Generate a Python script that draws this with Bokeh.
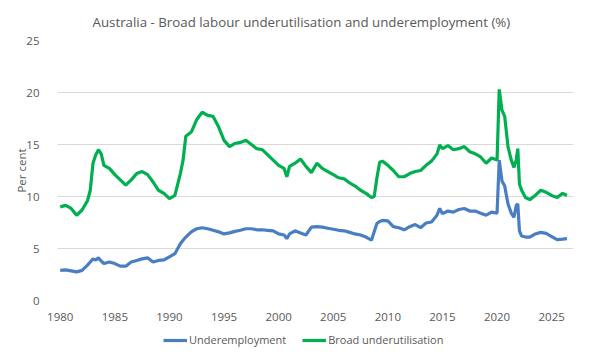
from bokeh.plotting import figure
from bokeh.layouts import column
from bokeh.models import Range1d, Legend, LegendItem, FixedTicker
from bokeh.embed import file_html
from bokeh.resources import INLINE

years = [1980.0, 1980.5, 1981.0, 1981.5, 1982.0, 1982.5, 1982.75, 1983.0, 1983.25, 1983.5,
         1983.75, 1984.0, 1984.5, 1985.0, 1985.5, 1986.0, 1986.5, 1987.0, 1987.5, 1988.0,
         1988.5, 1989.0, 1989.5, 1990.0, 1990.5, 1991.0, 1991.25, 1991.5, 1992.0, 1992.5,
         1993.0, 1993.5, 1994.0, 1994.5, 1995.0, 1995.5, 1996.0, 1996.5, 1997.0, 1997.5,
         1998.0, 1998.5, 1999.0, 1999.5, 2000.0, 2000.5, 2000.75, 2001.0, 2001.5, 2002.0,
         2002.5, 2003.0, 2003.5, 2004.0, 2004.5, 2005.0, 2005.5, 2006.0, 2006.5, 2007.0,
         2007.5, 2008.0, 2008.5, 2008.75, 2009.0, 2009.25, 2009.5, 2010.0, 2010.5, 2011.0,
         2011.5, 2012.0, 2012.5, 2013.0, 2013.5, 2014.0, 2014.5, 2014.75, 2015.0, 2015.5,
         2016.0, 2016.5, 2017.0, 2017.5, 2018.0, 2018.5, 2019.0, 2019.5, 2020.0, 2020.2,
         2020.45, 2020.7, 2021.0, 2021.3, 2021.55, 2021.75, 2021.9, 2022.05, 2022.25, 2022.6,
         2023.0, 2023.5, 2024.0, 2024.5, 2025.0, 2025.5, 2026.0, 2026.4]

underutilisation = [9.0, 9.15, 8.85, 8.2, 8.7, 9.6, 10.6, 13.2, 14.0, 14.5,
                    14.1, 13.0, 12.7, 12.1, 11.6, 11.1, 11.6, 12.2, 12.4, 12.1,
                    11.4, 10.6, 10.3, 9.8, 10.1, 12.2, 13.5, 15.8, 16.2, 17.4,
                    18.1, 17.8, 17.7, 16.7, 15.4, 14.8, 15.1, 15.2, 15.4, 15.0,
                    14.6, 14.5, 14.0, 13.5, 13.0, 12.7, 11.9, 12.9, 13.2, 13.6,
                    12.9, 12.3, 13.2, 12.7, 12.4, 12.1, 11.8, 11.7, 11.3, 11.0,
                    10.6, 10.3, 9.9, 10.0, 11.8, 13.3, 13.4, 13.0, 12.5, 11.9,
                    11.9, 12.2, 12.4, 12.5, 13.0, 13.4, 14.1, 14.95, 14.6, 14.9,
                    14.5, 14.6, 14.8, 14.3, 14.1, 13.8, 13.2, 13.7, 13.5, 20.3,
                    18.3, 17.7, 14.8, 13.5, 12.8, 13.5, 14.6, 11.2, 10.6, 9.9,
                    9.7, 10.1, 10.6, 10.4, 10.1, 9.9, 10.3, 10.1]

underemployment = [2.9, 2.95, 2.85, 2.75, 2.9, 3.4, 3.7, 4.0, 3.9, 4.1,
                   3.8, 3.55, 3.7, 3.55, 3.3, 3.3, 3.7, 3.85, 4.0, 4.1,
                   3.7, 3.85, 3.9, 4.2, 4.5, 5.45, 5.8, 6.1, 6.6, 6.9,
                   7.0, 6.9, 6.75, 6.6, 6.4, 6.5, 6.65, 6.75, 6.9, 6.9,
                   6.8, 6.8, 6.75, 6.7, 6.4, 6.3, 5.95, 6.4, 6.7, 6.5,
                   6.3, 7.05, 7.1, 7.05, 6.95, 6.85, 6.75, 6.7, 6.55, 6.4,
                   6.3, 6.1, 5.8, 6.6, 7.4, 7.6, 7.7, 7.65, 7.1, 7.0,
                   6.8, 7.1, 7.3, 7.0, 7.45, 7.55, 8.2, 8.85, 8.35, 8.6,
                   8.5, 8.75, 8.85, 8.6, 8.6, 8.4, 8.2, 8.5, 8.4, 13.5,
                   11.5, 11.0, 9.3, 8.4, 8.0, 9.1, 9.3, 6.7, 6.2, 6.1,
                   6.1, 6.4, 6.55, 6.45, 6.15, 5.85, 5.9, 5.95]

x_ticks = [1980, 1985, 1990, 1995, 2000, 2005, 2010, 2015, 2020, 2025]
y_ticks = [0, 5, 10, 15, 20, 25]

title_text = "Australia - Broad labour underutilisation and underemployment (%)"
font = "Open Sans"
grey = "#595959"
blue = "#4A7EC2"
green = "#00B050"

p = figure(frame_width=516, frame_height=260, output_backend="svg", toolbar_location=None,
           x_range=Range1d(1979.75, 2027.0), y_range=Range1d(0, 25),
           min_border_left=57, min_border_right=14, min_border_top=40, min_border_bottom=26)

p.title.text = title_text
p.title.align = "left"
p.title.offset = 35
p.title.text_font = font
p.title.text_font_size = "13.3px"
p.title.text_font_style = "normal"
p.title.text_color = grey
p.title.standoff = 20

p.outline_line_color = None
p.xgrid.grid_line_color = None
p.ygrid.grid_line_color = "#D9D9D9"
p.ygrid.grid_line_width = 1

for ax in (p.xaxis[0], p.yaxis[0]):
    ax.axis_line_color = None
    ax.major_tick_line_color = None
    ax.minor_tick_line_color = None
    ax.major_label_text_font = font
    ax.major_label_text_font_size = "11.5px"
    ax.major_label_text_color = grey

p.xaxis[0].ticker = FixedTicker(ticks=x_ticks)
p.yaxis[0].ticker = FixedTicker(ticks=y_ticks)
p.xaxis[0].major_label_standoff = 6
p.yaxis[0].major_label_standoff = 12
p.yaxis[0].axis_label = "Per cent"
p.yaxis[0].axis_label_text_font = font
p.yaxis[0].axis_label_text_font_size = "11.5px"
p.yaxis[0].axis_label_text_font_style = "normal"
p.yaxis[0].axis_label_text_color = grey
p.yaxis[0].axis_label_standoff = -6

p.line(years, underemployment, line_color=blue, line_width=3.2)
p.line(years, underutilisation, line_color=green, line_width=3.2)

# legend strip below the chart (key lines sit outside the visible range)
lg = figure(width=587, height=26, output_backend="svg", toolbar_location=None,
            x_range=Range1d(0, 1), y_range=Range1d(0, 1), min_border=0)
lg.axis.visible = False
lg.grid.visible = False
lg.outline_line_color = None
k1 = lg.line([-2, -1], [-2, -1], line_color=blue, line_width=3.2)
k2 = lg.line([-2, -1], [-2, -1], line_color=green, line_width=3.2)
legend = Legend(items=[LegendItem(label="Underemployment", renderers=[k1]),
                       LegendItem(label="Broad underutilisation", renderers=[k2])],
                orientation="horizontal", location=(106, 5),
                label_text_font=font, label_text_font_size="11px", label_text_color=grey,
                glyph_width=24, glyph_height=12, label_standoff=2, spacing=16,
                border_line_color=None, background_fill_alpha=0, padding=0, margin=0)
lg.add_layout(legend, "center")

layout = column(p, lg, spacing=0)
open("out.html", "w").write(file_html(layout, INLINE))
